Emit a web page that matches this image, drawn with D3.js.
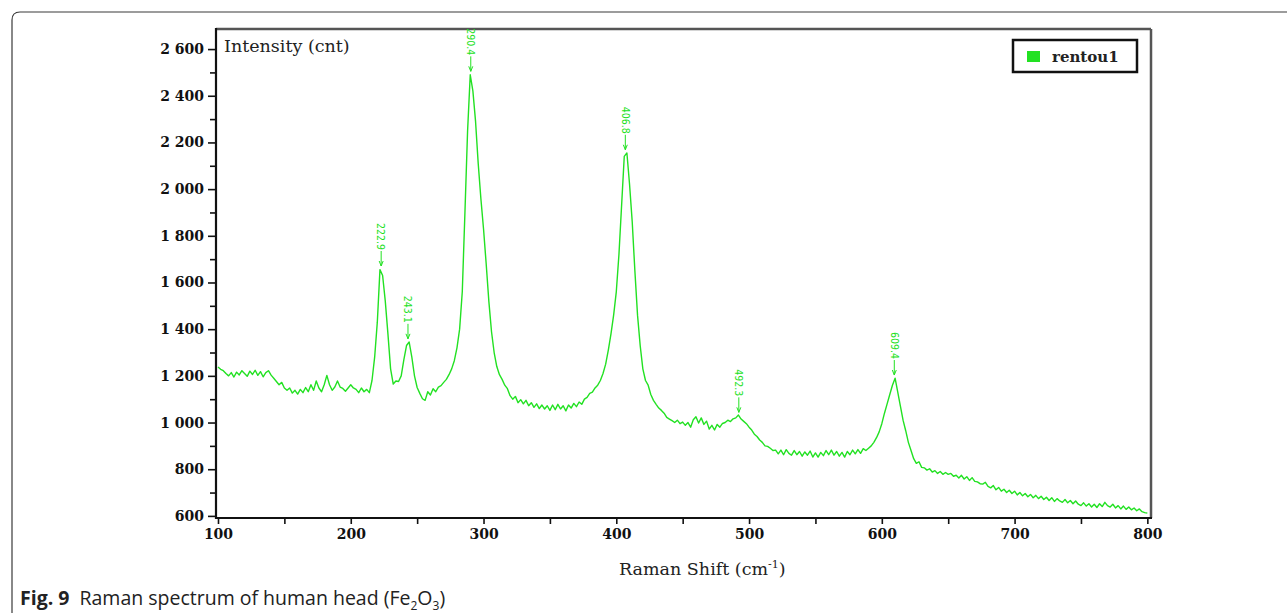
<!DOCTYPE html>
<html>
<head>
<meta charset="utf-8">
<script src="https://cdn.jsdelivr.net/npm/d3@7"></script>
<style>
  body { margin: 0; background: #fff; }
  svg { display: block; }
</style>
</head>
<body>
<script>
// Raman spectrum (cm-1 / counts)
const ramanShift = [
  100,102,104,106,108,110,112,114,116,118,120,122,124,126,128,130,132,134,136,138,140,142,144,146,148,
  150,152,154,156,158,160,162,164,166,168,170,172,174,176,178,180,182,184,186,188,190,192,194,196,198,
  200,202,204,206,208,210,212,214,216,218,220,222,224,226,228,230,232,234,236,238,240,242,244,246,248,
  250,252,254,256,258,260,262,264,266,268,270,272,274,276,278,280,282,284,286,288,290,292,294,296,298,
  300,302,304,306,308,310,312,314,316,318,320,322,324,326,328,330,332,334,336,338,340,342,344,346,348,
  350,352,354,356,358,360,362,364,366,368,370,372,374,376,378,380,382,384,386,388,390,392,394,396,398,
  400,402,404,406,408,410,412,414,416,418,420,422,424,426,428,430,432,434,436,438,440,442,444,446,448,
  450,452,454,456,458,460,462,464,466,468,470,472,474,476,478,480,482,484,486,488,490,492,494,496,498,
  500,502,504,506,508,510,512,514,516,518,520,522,524,526,528,530,532,534,536,538,540,542,544,546,548,
  550,552,554,556,558,560,562,564,566,568,570,572,574,576,578,580,582,584,586,588,590,592,594,596,598,
  600,602,604,606,608,610,612,614,616,618,620,622,624,626,628,630,632,634,636,638,640,642,644,646,648,
  650,652,654,656,658,660,662,664,666,668,670,672,674,676,678,680,682,684,686,688,690,692,694,696,698,
  700,702,704,706,708,710,712,714,716,718,720,722,724,726,728,730,732,734,736,738,740,742,744,746,748,
  750,752,754,756,758,760,762,764,766,768,770,772,774,776,778,780,782,784,786,788,790,792,794,796,798,
  800
];
const intensity = [
  1238,1228,1222,1210,1200,1214,1195,1216,1204,1222,1210,1198,1220,1206,1224,1202,1218,1196,1214,1222,1203,1190,1176,1162,1172,
  1148,1138,1148,1126,1138,1122,1142,1128,1150,1132,1162,1138,1178,1148,1132,1162,1202,1162,1138,1152,1178,1152,1146,1134,1148,
  1162,1148,1142,1128,1148,1132,1142,1128,1180,1280,1430,1655,1630,1520,1380,1230,1165,1178,1176,1200,1270,1330,1345,1280,1200,
  1150,1125,1102,1095,1132,1118,1145,1132,1152,1158,1172,1185,1205,1230,1265,1320,1400,1560,1900,2250,2490,2420,2290,2110,1960,
  1830,1680,1520,1390,1300,1240,1205,1185,1160,1145,1115,1100,1112,1085,1098,1080,1095,1072,1085,1065,1080,1060,1075,1058,1072,
  1052,1075,1055,1078,1058,1072,1050,1075,1062,1082,1068,1088,1078,1100,1108,1125,1130,1148,1160,1180,1210,1250,1310,1380,1460,
  1560,1720,1930,2140,2155,2020,1860,1650,1460,1330,1230,1180,1160,1120,1095,1078,1062,1052,1040,1022,1015,1008,1000,1010,995,
  1002,988,1000,980,1012,1025,998,1020,992,1006,972,988,968,992,980,996,1000,1010,1004,1016,1020,1032,1015,1005,995,
  980,968,950,940,925,915,900,898,890,880,882,866,882,862,884,868,860,880,862,876,856,874,860,878,852,
  870,852,872,858,880,862,882,860,876,856,872,852,876,862,882,866,884,868,888,880,890,900,915,935,960,
  995,1040,1080,1120,1160,1190,1130,1070,1010,965,915,880,845,825,832,808,806,796,802,788,794,782,790,778,786,
  778,782,770,774,762,774,758,768,752,764,748,746,738,736,744,726,720,730,712,722,706,714,700,710,696,
  706,690,700,686,696,682,692,678,688,674,684,670,680,666,678,662,674,664,658,670,656,666,652,664,650,
  644,656,642,652,638,650,636,652,640,658,644,638,650,634,644,630,642,628,638,626,634,622,630,618,614,
  612
];

// labelled peaks
const peakShift = [222.9, 243.1, 290.4, 406.8, 492.3, 609.4];
const peakIntensity = [1662, 1350, 2496, 2160, 1035, 1195];

const xMajor = [100, 200, 300, 400, 500, 600, 700, 800];
const xMinor = [150, 250, 350, 450, 550, 650, 750];
const yMajor = [600, 800, 1000, 1200, 1400, 1600, 1800, 2000, 2200, 2400, 2600];
const yMinor = [700, 900, 1100, 1300, 1500, 1700, 1900, 2100, 2300, 2500];

const seriesName = "rentou1";
const green = "#22e122";

const W = 1287, H = 613;
const plot = { left: 216, right: 1151, top: 29, bottom: 518 };

const locale = d3.formatLocale({ decimal: ".", thousands: " ", grouping: [3], currency: ["", ""] });
const fmt = locale.format(",d");

const svg = d3.select("body").append("svg")
  .attr("width", W)
  .attr("height", H);

// outer figure frame (rounded top-left corner)
svg.append("path")
  .attr("d", "M12,613 L12,20 Q12,12 20,12 L1287,12")
  .attr("fill", "none")
  .attr("stroke", "#3a3a3a")
  .attr("stroke-width", 1.2);

const x = d3.scaleLinear().domain([98.5, 802]).range([plot.left, plot.right - 1]);
const y = d3.scaleLinear().domain([591, 2686]).range([plot.bottom, plot.top]);

// plot frame: top/right grey, left/bottom black
svg.append("line")
  .attr("x1", plot.left).attr("x2", plot.right)
  .attr("y1", plot.top).attr("y2", plot.top)
  .attr("stroke", "#555").attr("stroke-width", 2.5);
svg.append("line")
  .attr("x1", plot.right).attr("x2", plot.right)
  .attr("y1", plot.top).attr("y2", plot.bottom)
  .attr("stroke", "#555").attr("stroke-width", 2.5);

// axes
const yAxis = svg.append("g")
  .attr("transform", `translate(${plot.left},0)`)
  .call(d3.axisLeft(y).tickValues(yMajor).tickSize(8).tickPadding(4).tickFormat(fmt));
const yAxisMinor = svg.append("g")
  .attr("transform", `translate(${plot.left},0)`)
  .call(d3.axisLeft(y).tickValues(yMinor).tickSize(6).tickFormat(""));
const xAxis = svg.append("g")
  .attr("transform", `translate(0,${plot.bottom})`)
  .call(d3.axisBottom(x).tickValues(xMajor).tickSize(6).tickPadding(5).tickFormat(d3.format("d")));
const xAxisMinor = svg.append("g")
  .attr("transform", `translate(0,${plot.bottom})`)
  .call(d3.axisBottom(x).tickValues(xMinor).tickSize(6).tickFormat(""));

[yAxis, yAxisMinor, xAxis, xAxisMinor].forEach((g) => {
  g.select(".domain").remove();
  g.selectAll("line").attr("stroke", "#111").attr("stroke-width", 1.6);
  g.selectAll("text")
    .attr("fill", "#111")
    .style("font-family", "'DejaVu Serif', serif")
    .style("font-weight", "bold")
    .style("font-size", "14px");
});

svg.append("line")
  .attr("x1", plot.left).attr("x2", plot.left)
  .attr("y1", plot.top - 1).attr("y2", plot.bottom + 1)
  .attr("stroke", "#111").attr("stroke-width", 2.2);
svg.append("line")
  .attr("x1", plot.left).attr("x2", plot.right + 1)
  .attr("y1", plot.bottom).attr("y2", plot.bottom)
  .attr("stroke", "#111").attr("stroke-width", 2.2);

// spectrum
const data = ramanShift.map((s, i) => ({ s: s, v: intensity[i] }));
const line = d3.line().x((d) => x(d.s)).y((d) => y(d.v));

svg.append("path")
  .datum(data)
  .attr("fill", "none")
  .attr("stroke", green)
  .attr("stroke-width", 1.4)
  .attr("stroke-linejoin", "round")
  .attr("d", line);

// peak markers: arrow + rotated value
const peaks = peakShift.map((s, i) => ({ s: s, v: peakIntensity[i] }));
const pk = svg.append("g").selectAll("g").data(peaks).join("g")
  .attr("transform", (d) => `translate(${x(d.s)},${y(d.v) - 2})`);

pk.append("line")
  .attr("x1", 0).attr("x2", 0)
  .attr("y1", -15).attr("y2", 0)
  .attr("stroke", green).attr("stroke-width", 1);
pk.append("path")
  .attr("d", "M-2,-5 L0,0 L2,-5")
  .attr("fill", "none")
  .attr("stroke", green).attr("stroke-width", 1);
pk.append("text")
  .attr("transform", "translate(0,-16) rotate(90)")
  .attr("text-anchor", "end")
  .attr("dy", "0.35em")
  .attr("fill", green)
  .style("font-family", "'DejaVu Sans Condensed', 'Liberation Sans Narrow', sans-serif")
  .style("font-stretch", "condensed")
  .style("font-size", "10.5px")
  .text((d) => d.s.toFixed(1));

// axis titles
svg.append("text")
  .attr("x", 224).attr("y", 52)
  .attr("fill", "#222")
  .style("font-family", "'DejaVu Serif', serif")
  .style("font-size", "17.5px")
  .text("Intensity (cnt)");

const xt = svg.append("text")
  .attr("x", 619).attr("y", 575)
  .attr("fill", "#222")
  .style("font-family", "'DejaVu Serif', serif")
  .style("font-size", "17.5px");
xt.append("tspan").text("Raman Shift (cm");
xt.append("tspan").attr("dy", -7).style("font-size", "11px").text("-1");
xt.append("tspan").attr("dy", 7).text(")");

// legend
const lg = svg.append("g").attr("transform", "translate(1013,40)");
lg.append("rect")
  .attr("width", 124).attr("height", 32)
  .attr("fill", "#fff")
  .attr("stroke", "#111").attr("stroke-width", 2.5);
lg.append("rect")
  .attr("x", 14).attr("y", 11).attr("width", 13).attr("height", 11)
  .attr("fill", green);
lg.append("text")
  .attr("x", 39).attr("y", 22)
  .attr("fill", "#222")
  .style("font-family", "'DejaVu Serif', serif")
  .style("font-weight", "bold")
  .style("font-size", "15px")
  .text(seriesName);

// caption
const cap = svg.append("text")
  .attr("x", 20).attr("y", 605)
  .attr("fill", "#222")
  .style("font-family", "'Open Sans', sans-serif")
  .style("font-size", "19.5px");
cap.append("tspan").style("font-weight", "bold").text("Fig. 9");
cap.append("tspan").attr("dx", 10).text("Raman spectrum of human head (Fe");
cap.append("tspan").attr("dy", 5).style("font-size", "12px").text("2");
cap.append("tspan").attr("dy", -5).text("O");
cap.append("tspan").attr("dy", 5).style("font-size", "12px").text("3");
cap.append("tspan").attr("dy", -5).text(")");
</script>
</body>
</html>
